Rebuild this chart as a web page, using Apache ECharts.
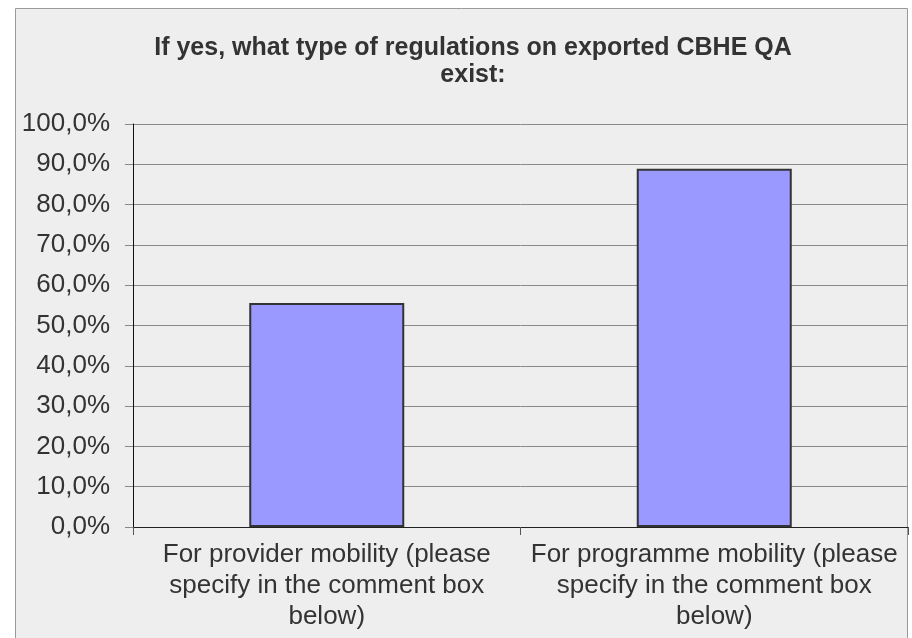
<!DOCTYPE html>
<html>
<head>
<meta charset="utf-8">
<title>Regulations on exported CBHE QA</title>
<script src="https://cdn.jsdelivr.net/npm/echarts@6/dist/echarts.min.js"></script>
<style>
  html, body { margin: 0; padding: 0; background: #ffffff; }
  #chart { width: 912px; height: 638px; }
</style>
</head>
<body>
<div id="chart"></div>
<script>
// Survey answers: share of respondents per type of regulation
const categories = [
  'For provider mobility (please\nspecify in the comment box\nbelow)',
  'For programme mobility (please\nspecify in the comment box\nbelow)'
];
const shares = [0.556, 0.889];
const yTicks = { min: 0, max: 1, interval: 0.1 };
const titleText = 'If yes, what type of regulations on exported CBHE QA\nexist:';

const FONT = 'Liberation Sans, Arial, sans-serif';

function pctLabel(v) {
  return (v * 100).toFixed(1).replace('.', ',') + '%';
}

const chart = echarts.init(document.getElementById('chart'), null, { renderer: 'canvas' });

chart.setOption({
  backgroundColor: '#ffffff',
  animation: false,
  graphic: [{
    type: 'rect',
    z: -1,
    silent: true,
    shape: { x: 15.5, y: 8.5, width: 892, height: 640 },
    style: { fill: '#eeeeee', stroke: '#9a9a9a', lineWidth: 1 }
  }],
  title: {
    text: titleText,
    left: 468,
    top: 30,
    textAlign: 'center',
    textStyle: {
      fontFamily: FONT,
      fontSize: 25,
      fontWeight: 'bold',
      color: '#333333',
      lineHeight: 27
    }
  },
  grid: { left: 133, right: 4, top: 124, bottom: 111, containLabel: false },
  xAxis: {
    type: 'category',
    data: categories,
    axisLine: { show: true, lineStyle: { color: '#222222', width: 1 } },
    axisTick: { show: true, length: 8, alignWithLabel: false, lineStyle: { color: '#555555' } },
    axisLabel: {
      interval: 0,
      margin: 12,
      fontFamily: FONT,
      fontSize: 26,
      lineHeight: 31,
      color: '#333333',
      align: 'center'
    },
    splitLine: { show: false }
  },
  yAxis: {
    type: 'value',
    min: yTicks.min,
    max: yTicks.max,
    interval: yTicks.interval,
    axisLine: { show: true, lineStyle: { color: '#111111', width: 1 } },
    axisTick: { show: true, length: 8, lineStyle: { color: '#888888' } },
    axisLabel: {
      formatter: pctLabel,
      margin: 23,
      fontFamily: FONT,
      fontSize: 26,
      color: '#333333'
    },
    splitLine: { show: true, lineStyle: { color: '#8a8a8a', width: 1 } }
  },
  series: [{
    type: 'bar',
    data: shares,
    barWidth: '40%',
    itemStyle: {
      color: '#9999ff',
      borderColor: '#333333',
      borderWidth: 2
    }
  }]
});
</script>
</body>
</html>
